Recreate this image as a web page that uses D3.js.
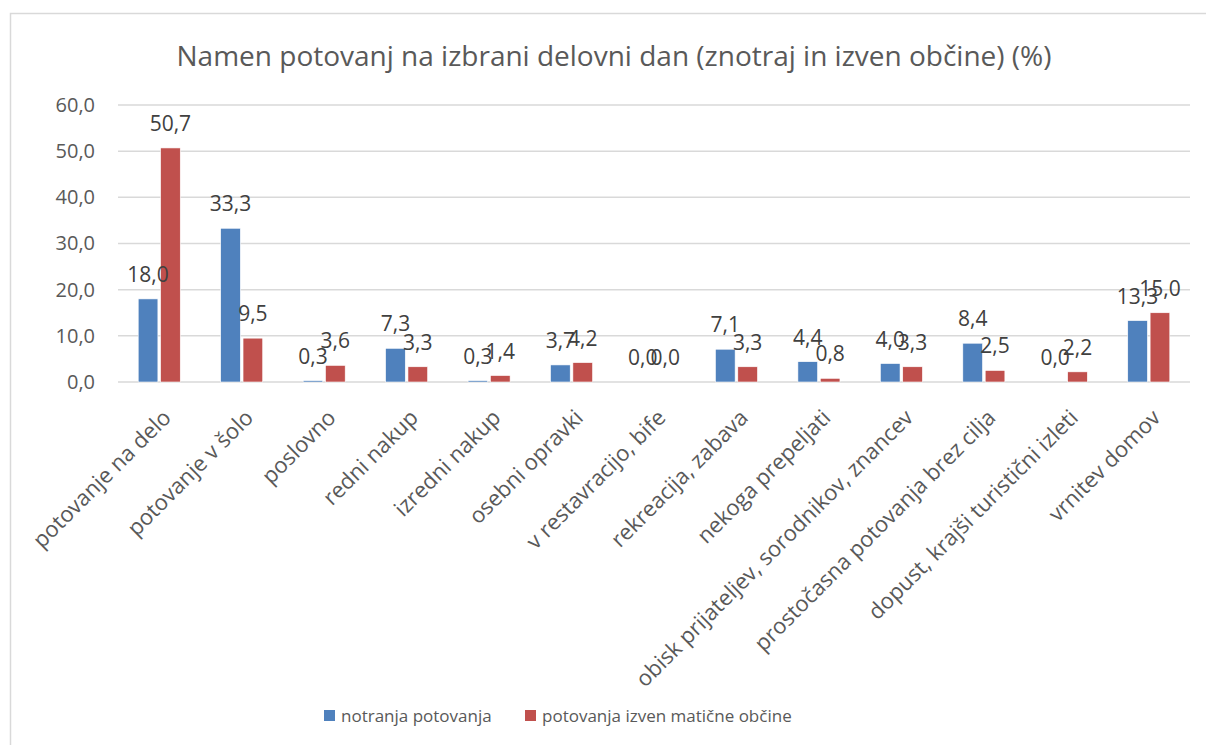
<!DOCTYPE html>
<html>
<head>
<meta charset="utf-8">
<script src="https://cdn.jsdelivr.net/npm/d3@7"></script>
<style>
  body { margin: 0; background: #fff; }
  text { font-family: "Open Sans", sans-serif; }
</style>
</head>
<body>
<div id="chart"></div>
<script>
var categories = [
  "potovanje na delo",
  "potovanje v šolo",
  "poslovno",
  "redni nakup",
  "izredni nakup",
  "osebni opravki",
  "v restavracijo, bife",
  "rekreacija, zabava",
  "nekoga prepeljati",
  "obisk prijateljev, sorodnikov, znancev",
  "prostočasna potovanja brez cilja",
  "dopust, krajši turistični izleti",
  "vrnitev domov"
];
var seriesNames = ["notranja potovanja", "potovanja izven matične občine"];
var notranja = [18.0, 33.3, 0.3, 7.3, 0.3, 3.7, 0.0, 7.1, 4.4, 4.0, 8.4, 0.0, 13.3];
var izven = [50.7, 9.5, 3.6, 3.3, 1.4, 4.2, 0.0, 3.3, 0.8, 3.3, 2.5, 2.2, 15.0];
var yTicks = [0, 10, 20, 30, 40, 50, 60];
var colors = ["#4f81bd", "#c0504d"];

var width = 1206, height = 745;
var margin = { top: 105, right: 16, bottom: 363, left: 118 };

var fmt = function (v) { return d3.format(".1f")(v).replace(".", ","); };

var svg = d3.select("#chart").append("svg")
  .attr("width", width)
  .attr("height", height);

// chart frame
svg.append("rect")
  .attr("x", 10.5).attr("y", 13.5)
  .attr("width", width).attr("height", height)
  .attr("fill", "none")
  .attr("stroke", "#d9d9d9")
  .attr("stroke-width", 1.5);

// title
svg.append("text")
  .attr("x", 614).attr("y", 66)
  .attr("text-anchor", "middle")
  .attr("font-size", "28px")
  .attr("fill", "#595959")
  .text("Namen potovanj na izbrani delovni dan (znotraj in izven občine) (%)");

var x = d3.scaleBand()
  .domain(categories)
  .range([margin.left, width - margin.right])
  .paddingInner(0.49)
  .paddingOuter(0.245);

var xs = d3.scaleBand()
  .domain([0, 1])
  .range([0, x.bandwidth()])
  .paddingInner(0.12);

var y = d3.scaleLinear()
  .domain([0, 60])
  .range([height - margin.bottom, margin.top]);

// gridlines
svg.append("g")
  .selectAll("line")
  .data(yTicks)
  .join("line")
  .attr("x1", margin.left)
  .attr("x2", width - margin.right)
  .attr("y1", function (d) { return y(d); })
  .attr("y2", function (d) { return y(d); })
  .attr("stroke", "#d9d9d9")
  .attr("stroke-width", 1.5);

// y axis labels
var yAxis = svg.append("g")
  .attr("transform", "translate(" + (margin.left - 20) + ",0)")
  .call(d3.axisLeft(y).tickValues(yTicks).tickFormat(fmt).tickSize(0));
yAxis.select(".domain").remove();
yAxis.selectAll("text")
  .attr("font-size", "20px")
  .attr("font-family", "Open Sans, sans-serif")
  .attr("fill", "#595959");

// bars
var data = categories.map(function (c, i) {
  return { cat: c, values: [notranja[i], izven[i]] };
});

var groups = svg.append("g")
  .selectAll("g")
  .data(data)
  .join("g")
  .attr("transform", function (d) { return "translate(" + x(d.cat) + ",0)"; });

groups.selectAll("rect")
  .data(function (d) { return d.values; })
  .join("rect")
  .attr("x", function (d, i) { return xs(i); })
  .attr("width", xs.bandwidth())
  .attr("y", function (d) { return y(d); })
  .attr("height", function (d) { return y(0) - y(d); })
  .attr("fill", function (d, i) { return colors[i]; })
  .attr("stroke", "#ffffff")
  .attr("stroke-width", 0.6);

// data labels
groups.selectAll("text")
  .data(function (d) { return d.values; })
  .join("text")
  .attr("x", function (d, i) { return xs(i) + xs.bandwidth() / 2; })
  .attr("y", function (d) { return y(d) - 17; })
  .attr("text-anchor", "middle")
  .attr("font-size", "21px")
  .attr("fill", "#404040")
  .text(fmt);

// category labels, rotated
var xAxis = svg.append("g")
  .attr("transform", "translate(0," + (y(0) + 24) + ")")
  .call(d3.axisBottom(x).tickSize(0));
xAxis.select(".domain").remove();
xAxis.selectAll("text")
  .attr("font-size", "22px")
  .attr("font-family", "Open Sans, sans-serif")
  .attr("fill", "#595959")
  .attr("text-anchor", "end")
  .attr("dy", "0.7em")
  .attr("transform", "rotate(-45)");

// legend
var legendX = [324, 525];
var legend = svg.append("g")
  .selectAll("g")
  .data(seriesNames)
  .join("g")
  .attr("transform", function (d, i) { return "translate(" + legendX[i] + ",710)"; });
legend.append("rect")
  .attr("width", 11).attr("height", 11)
  .attr("fill", function (d, i) { return colors[i]; });
legend.append("text")
  .attr("x", 17).attr("y", 12)
  .attr("font-size", "17px")
  .attr("fill", "#595959")
  .text(function (d) { return d; });
</script>
</body>
</html>
